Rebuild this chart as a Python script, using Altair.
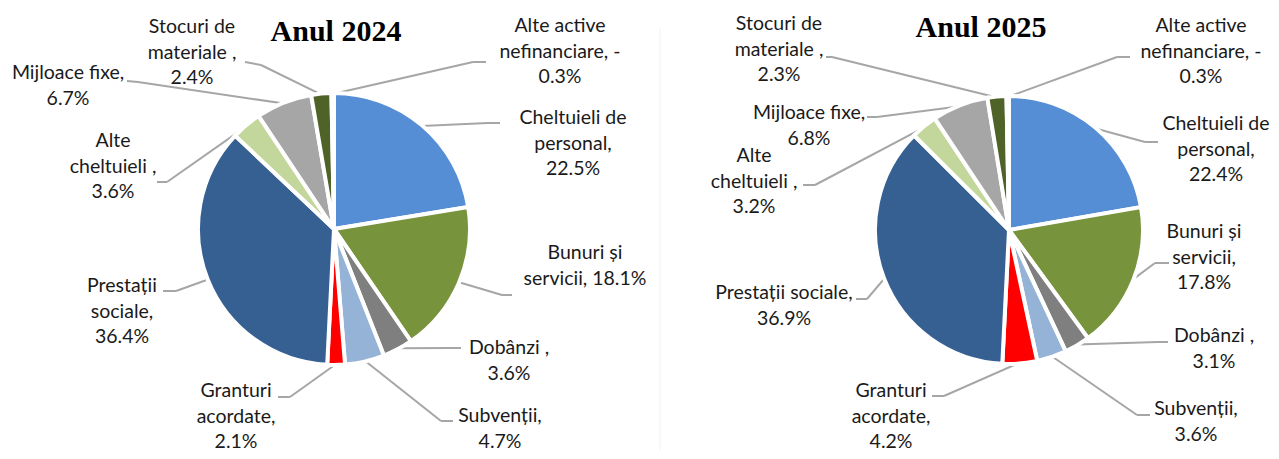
import altair as alt
import pandas as pd

# ---------------- data ----------------
categories = ["Cheltuieli de personal", "Bunuri și servicii", "Dobânzi", "Subvenții",
              "Granturi acordate", "Prestații sociale", "Alte cheltuieli", "Mijloace fixe",
              "Stocuri de materiale", "Alte active nefinanciare"]
years = ["2024", "2025"]
titles = ["Anul 2024", "Anul 2025"]
values_2024 = [22.5, 18.1, 3.6, 4.7, 2.1, 36.4, 3.6, 6.7, 2.4, -0.3]
values_2025 = [22.4, 17.8, 3.1, 3.6, 4.2, 36.9, 3.2, 6.8, 2.3, -0.3]
labels_2024 = ["Cheltuieli de\npersonal,\n{v}", "Bunuri și\nservicii, {v}", "Dobânzi ,\n{v}",
               "Subvenții,\n{v}", "Granturi\nacordate,\n{v}", "Prestații\nsociale,\n{v}",
               "Alte\ncheltuieli ,\n{v}", "Mijloace fixe,\n{v}", "Stocuri de\nmateriale ,\n{v}",
               "Alte active\nnefinanciare, -\n{v}"]
labels_2025 = ["Cheltuieli de\npersonal,\n{v}", "Bunuri și\nservicii,\n{v}", "Dobânzi ,\n{v}",
               "Subvenții,\n{v}", "Granturi\nacordate,\n{v}", "Prestații sociale,\n{v}",
               "Alte\ncheltuieli ,\n{v}", "Mijloace fixe,\n{v}", "Stocuri de\nmateriale ,\n{v}",
               "Alte active\nnefinanciare, -\n{v}"]
colors = ["#558ED5", "#77933C", "#7F7F7F", "#95B3D7", "#FF0000", "#376092",
          "#C3D69B", "#A6A6A6", "#4F6228", "#FFFFFF"]

# ---------------- layout (image pixel coordinates) ----------------
M = 8  # page margin
pie_center = {"2024": (334, 229), "2025": (1009, 230)}
pie_radius = {"2024": 134, "2025": 132}
title_pos = {"2024": (336, 41), "2025": (981, 37)}
# (center x, baseline of first line)
label_anchor = {
    "2024": [(573, 124), (585, 259), (509, 354), (500, 422), (236, 397), (122, 292),
             (113, 147), (68, 79), (192, 33), (560, 32)],
    "2025": [(1216, 130), (1204, 238), (1214, 342), (1196, 415), (891, 397), (784, 299),
             (754, 162), (809, 119), (779, 30), (1201, 32)],
}
leader_elbow = {
    "2024": [(488, 123), (502, 295), (452, 348), (441, 421), (290, 397), (176, 291),
             (167, 182), (138, 82), (261, 65), (473, 62)],
    "2025": [(1145, 142), (1155, 263), (1158, 342), (1137, 415), (944, 396), (867, 299),
             (815, 185), (877, 117), (832, 57), (1117, 57)],
}
leader_end = {
    "2024": [(500, 123), (512, 295), (461, 348), (453, 421), (278, 397), (163, 291),
             (157, 182), (127, 81), (245, 62), (486, 62)],
    "2025": [(1158, 142), (1169, 263), (1168, 342), (1150, 415), (932, 396), (856, 299),
             (803, 185), (867, 117), (826, 57), (1130, 57)],
}

rows = []
for y, vals, labs in [("2024", values_2024, labels_2024), ("2025", values_2025, labels_2025)]:
    for i, (c, v, t) in enumerate(zip(categories, vals, labs)):
        lx, ly = label_anchor[y][i]
        ex, ey = leader_elbow[y][i]
        hx, hy = leader_end[y][i]
        rows.append(dict(year=y, category=c, value=v, order=i,
                         label=t.format(v=f"{abs(v):.1f}%"),
                         lx=lx - M, ly=ly - M, ex=ex - M, ey=ey - M, hx=hx - M, hy=hy - M))
df = pd.DataFrame(rows)
tdf = pd.DataFrame({"year": years, "title": titles,
                    "tx": [title_pos[y][0] - M for y in years],
                    "ty": [title_pos[y][1] - M for y in years]})

color_scale = alt.Scale(domain=categories, range=colors)

# faint border of the second chart area
border = alt.Chart(tdf.head(1)).mark_rule(color="#F3F3F3", strokeWidth=1).encode(
    x=alt.value(660 - M), y=alt.value(28 - M), y2=alt.value(451))

layers = [border]
for y in years:
    cx, cy = pie_center[y][0] - M, pie_center[y][1] - M
    R = pie_radius[y]
    base = alt.Chart(df).transform_filter(alt.datum.year == y).transform_calculate(
        share="abs(datum.value)")
    pie = base.mark_arc(stroke="white", strokeWidth=4, radius=R + 2).encode(
        theta=alt.Theta("share:Q", stack=True),
        color=alt.Color("category:N", scale=color_scale, legend=None),
        order=alt.Order("order:Q"),
        x=alt.value(cx), y=alt.value(cy),
    )
    geo = base.transform_joinaggregate(total="sum(share)").transform_window(
        cum="sum(share)", sort=[alt.SortField("order")]
    ).transform_calculate(
        ang="2*PI*(datum.cum - datum.share/2)/datum.total"
    ).transform_calculate(
        px=f"{cx} + {R + 1}*sin(datum.ang)"
    ).transform_calculate(
        py=f"{cy} - {R + 1}*cos(datum.ang)"
    )
    lead1 = geo.mark_rule(color="#A6A6A6", strokeWidth=2).encode(
        x=alt.X("px:Q", scale=None), y=alt.Y("py:Q", scale=None),
        x2="ex:Q", y2="ey:Q")
    lead2 = base.mark_rule(color="#A6A6A6", strokeWidth=2).encode(
        x=alt.X("ex:Q", scale=None), y=alt.Y("ey:Q", scale=None),
        x2="hx:Q", y2="hy:Q")
    text = base.mark_text(lineBreak="\n", align="center", baseline="alphabetic",
                          font="Lato", fontSize=19.5, lineHeight=25.5, color="#1a1a1a").encode(
        x=alt.X("lx:Q", scale=None), y=alt.Y("ly:Q", scale=None), text="label:N")
    layers += [lead1, lead2, pie, text]

title_layer = alt.Chart(tdf).mark_text(font="Liberation Serif", fontWeight="bold",
                                       fontSize=30, align="center", baseline="alphabetic",
                                       color="#000000").encode(
    x=alt.X("tx:Q", scale=None), y=alt.Y("ty:Q", scale=None), text="title:N")

chart = alt.layer(*layers, title_layer).resolve_scale(theta="independent").properties(
    width=1263, height=443, autosize=alt.AutoSizeParams(type="none"), padding=0
).configure_view(stroke=None)

chart.save("out.html", embed_options={"renderer": "svg", "actions": False})
